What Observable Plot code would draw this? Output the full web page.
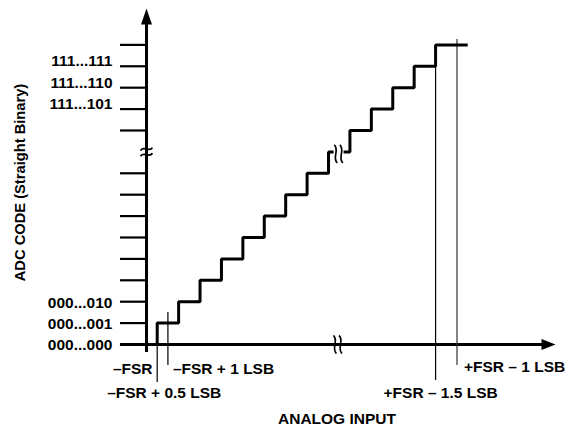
<!DOCTYPE html>
<html><head><meta charset="utf-8">
<script src="https://cdn.jsdelivr.net/npm/d3@7"></script>
<script src="https://cdn.jsdelivr.net/npm/@observablehq/plot@0.6"></script>
<style>
html,body{margin:0;padding:0;background:#fff;}
#chart svg{display:block;}
</style>
</head><body><div id="chart"></div>
<script>
// ---- data (x in LSB from -FSR, y in output code index) ----
const stepX    = [0, 0.5, 1.5, 2.5, 3.5, 4.5, 5.5, 6.5, 7.5, 8.5, 9.5, 10.5, 11.5, 12.5, 13.5, 15];
const stepCode = [0, 1, 2, 3, 4, 5, 6, 7, 8, 9, 10, 11, 12, 13, 14, 14];
const tickCodes = [0, 1, 2, 3, 4, 5, 6, 7, 8, 10, 11, 12, 13, 14];
const lowCodes = [0, 1, 2];
const lowCodeLabels = ["000...000", "000...001", "000...010"];
const highCodes = [11, 12, 13];
const highCodeLabels = ["111...101", "111...110", "111...111"];
const refX = [0.5, 1, 13.5, 14.5];
const xLabelText = ["\u2013FSR", "\u2013FSR + 1 LSB", "\u2013FSR + 0.5 LSB", "+FSR \u2013 1.5 LSB", "+FSR \u2013 1 LSB"];
const xLabelAt = [0, 1, 0.5, 13.5, 14.5];
const breakAt = 9;

// ---- layout / style ----
const xMax = 19.1, yMax = 15.7;
const refTop = [1, 1.5, 14, 14.25];
const refBottom = [-1.78, -0.98, -1.68, -0.98];
const refColor = ["#000", "#000", "#000", "#333"];
const xLabelStyle = [
  {anchor: "end", dx: 6, dy: 25},
  {anchor: "start", dx: 5, dy: 25},
  {anchor: "middle", dx: 7, dy: 49},
  {anchor: "middle", dx: 5, dy: 49},
  {anchor: "start", dx: 7, dy: 23}
];
const arrowUp = {draw(c) { c.moveTo(0, 0); c.lineTo(-5.5, 16); c.lineTo(5.5, 16); c.closePath(); }};
const arrowRight = {draw(c) { c.moveTo(0, 0); c.lineTo(-14, -5.5); c.lineTo(-14, 5.5); c.closePath(); }};
// wavy break marks
const waveH = {draw(c) {
  for (const o of [-2.8, 2.8]) { c.moveTo(-6, o + 1.5); c.bezierCurveTo(-2.5, o - 4, 2.5, o + 4, 6, o - 1.5); }
}};
const waveV = {draw(c) {
  for (const o of [-2.8, 2.8]) { c.moveTo(o - 1.5, -9); c.bezierCurveTo(o + 4, -4, o - 4, 4, o + 1.5, 9); }
}};
const gapBox = {draw(c) { c.rect(-5, -4, 10, 8); }};

const steps = stepX.map((x, i) => ({x, y: stepCode[i]}));
const refs = refX.map((x, i) => ({x, y1: refBottom[i], y2: refTop[i], c: refColor[i]}));
const xLabels = xLabelText.map((t, i) => ({t, x: xLabelAt[i], ...xLabelStyle[i]}));
const font = "'Liberation Sans', Arial, Helvetica, sans-serif";

const marks = [
  Plot.axisY({ticks: tickCodes, anchor: "left", tickSize: 26, tickFormat: () => "", strokeWidth: 2.2, label: null}),
  Plot.ruleX([0], {y1: -0.37, y2: yMax - 0.5, strokeWidth: 3}),
  Plot.ruleY([0], {x1: -1.215, x2: xMax - 0.4, strokeWidth: 3}),
  Plot.dot([0], {x: 0, y: yMax, symbol: arrowUp, r: 5, fill: "#000", stroke: "none"}),
  Plot.dot([0], {x: xMax, y: 0, symbol: arrowRight, r: 5, fill: "#000", stroke: "none"}),
  Plot.ruleX(refs, {x: "x", y1: "y1", y2: "y2", stroke: "c", strokeWidth: 1.2}),
  Plot.line(steps, {x: "x", y: "y", curve: "step-after", strokeWidth: 3, strokeLinejoin: "miter", strokeLinecap: "butt"}),
  // axis / series breaks
  Plot.dot([0], {x: 0, y: breakAt, symbol: waveH, r: 5, fill: "none", stroke: "#000", strokeWidth: 1.7}),
  Plot.dot([0], {x: breakAt - 0.07, y: 0, symbol: waveV, r: 5, fill: "none", stroke: "#000", strokeWidth: 1.7}),
  Plot.dot([0], {x: breakAt - 0.03, y: breakAt, symbol: gapBox, r: 5, fill: "#fff", stroke: "none"}),
  Plot.dot([0], {x: breakAt - 0.03, y: breakAt, symbol: waveV, r: 5, fill: "none", stroke: "#000", strokeWidth: 1.7, dy: 2}),
  // code labels
  Plot.text(lowCodes, {x: 0, y: d => d, text: (d, i) => lowCodeLabels[i], textAnchor: "end", dx: -34, dy: 1, fontSize: 15.5}),
  Plot.text(highCodes, {x: 0, y: d => d, text: (d, i) => highCodeLabels[i], textAnchor: "end", dx: -34, dy: -5, fontSize: 15.5}),
  // input labels
  ...xLabels.map(d => Plot.text([d], {x: "x", y: 0, text: "t", textAnchor: d.anchor, dx: d.dx, dy: d.dy, fontSize: 15.5})),
  // axis titles
  Plot.text(["ANALOG INPUT"], {frameAnchor: "bottom", lineAnchor: "middle", dx: -14, dy: 75, fontSize: 15.5}),
  Plot.text(["ADC CODE (Straight Binary)"], {frameAnchor: "left", textAnchor: "middle", rotate: -90, dx: -126, dy: 6, fontSize: 14.7})
];

const chart = Plot.plot({
  width: 568, height: 426,
  marginLeft: 146, marginRight: 13, marginTop: 8, marginBottom: 82,
  x: {domain: [0, xMax], axis: null},
  y: {domain: [0, yMax], axis: null},
  style: {fontFamily: font, fontWeight: "bold", fontSize: "15px", color: "#000", background: "#fff"},
  marks
});
document.getElementById("chart").appendChild(chart);
</script>
</body></html>
